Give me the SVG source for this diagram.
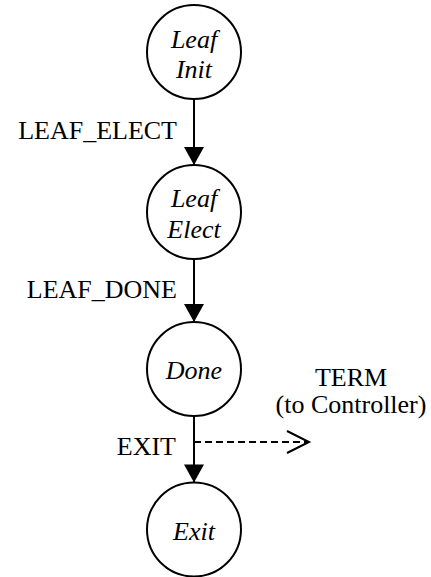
<svg xmlns="http://www.w3.org/2000/svg" width="431" height="577" viewBox="0 0 431 577">
<defs>
<marker id="ah" markerUnits="userSpaceOnUse" markerWidth="20" markerHeight="20" viewBox="0 0 18 20" refX="18" refY="10" orient="auto">
<path d="M0,0 L18,10 L0,20 Z" fill="#000"/>
</marker>
</defs>
<g id="connectors" stroke="#000" stroke-width="2" fill="none">
<line x1="194" y1="99" x2="194" y2="165" marker-end="url(#ah)"/>
<line x1="194" y1="259" x2="194" y2="322" marker-end="url(#ah)"/>
<line x1="194" y1="416" x2="194" y2="482.5" marker-end="url(#ah)"/>
<line x1="194" y1="442" x2="308" y2="442" stroke-dasharray="7 4"/>
<polyline points="287,431 309,442 287,453"/>
</g>
<g id="labels">
<text font-family="Liberation Serif" font-size="26" x="177" y="139" text-anchor="end">LEAF_ELECT</text>
<text font-family="Liberation Serif" font-size="26" x="177" y="298" text-anchor="end">LEAF_DONE</text>
<text font-family="Liberation Serif" font-size="26" x="176" y="455" text-anchor="end">EXIT</text>
<text font-family="Liberation Serif" font-size="26" x="351" y="386" text-anchor="middle">TERM</text>
<text font-family="Liberation Serif" font-size="26" x="351" y="413" text-anchor="middle">(to Controller)</text>
</g>
<g id="leaf-init">
<circle cx="194" cy="52" r="47" fill="#fff" stroke="#000" stroke-width="2"/>
<text font-family="Liberation Serif" font-style="italic" font-size="26" x="194" y="48" text-anchor="middle">Leaf</text>
<text font-family="Liberation Serif" font-style="italic" font-size="26" x="194" y="78" text-anchor="middle">Init</text>
</g>
<g id="leaf-elect">
<circle cx="194" cy="212" r="47" fill="#fff" stroke="#000" stroke-width="2"/>
<text font-family="Liberation Serif" font-style="italic" font-size="26" x="194" y="207" text-anchor="middle">Leaf</text>
<text font-family="Liberation Serif" font-style="italic" font-size="26" x="194" y="238" text-anchor="middle">Elect</text>
</g>
<g id="done">
<circle cx="194" cy="369" r="47" fill="#fff" stroke="#000" stroke-width="2"/>
<text font-family="Liberation Serif" font-style="italic" font-size="26" x="194" y="379" text-anchor="middle">Done</text>
</g>
<g id="exit">
<circle cx="194" cy="529.5" r="47" fill="#fff" stroke="#000" stroke-width="2"/>
<text font-family="Liberation Serif" font-style="italic" font-size="26" x="194" y="540" text-anchor="middle">Exit</text>
</g>
</svg>
